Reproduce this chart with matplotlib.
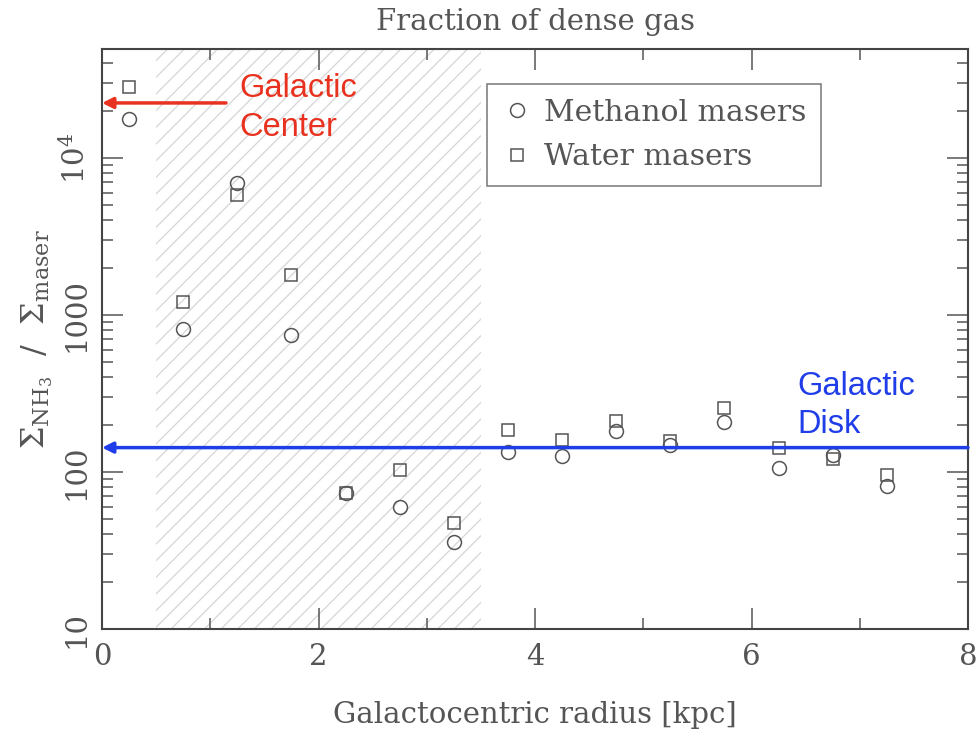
import numpy as np
import matplotlib
matplotlib.use("Agg")
import matplotlib.pyplot as plt
from matplotlib.ticker import FixedLocator, LogLocator, NullFormatter

# galactocentric radius bins [kpc]
radius = [0.25, 0.75, 1.25, 1.75, 2.25, 2.75, 3.25, 3.75,
          4.25, 4.75, 5.25, 5.75, 6.25, 6.75, 7.25]
# Sigma_NH3 / Sigma_maser
methanol = [17700, 815, 6930, 747, 73.5, 59.8, 35.8, 134,
            126, 182, 149, 208, 106, 128, 81.5]
water = [28300, 1210, 5800, 1800, 73.5, 103, 47.3, 185,
         160, 211, 157, 256, 142, 121, 95.7]

disk_level = 143
center_level = 22400
hatch_range = (0.5, 3.5)

grey = '#555555'
serif = 'DejaVu Serif'
plt.rcParams['mathtext.fontset'] = 'dejavuserif'
plt.rcParams['hatch.linewidth'] = 0.9

fig = plt.figure(figsize=(9.78, 7.37), dpi=100)
ax = fig.add_axes([0.1043, 0.1465, 0.8855, 0.787])

ax.axvspan(hatch_range[0], hatch_range[1], facecolor='none', edgecolor='#d6d6d6',
           hatch='//', linewidth=0, zorder=0)

ax.plot(radius, methanol, 'o', mfc='none', mec=grey, ms=10, mew=1.1,
        label='Methanol masers')
ax.plot(radius, water, 's', mfc='none', mec=grey, ms=8.5, mew=1.1,
        label='Water masers')

ax.annotate('', xy=(0, disk_level), xytext=(8, disk_level),
            arrowprops=dict(arrowstyle='-|>', color='#1f3de8', lw=2.5,
                            mutation_scale=16, shrinkA=0, shrinkB=0))
ax.annotate('', xy=(0, center_level), xytext=(1.145, center_level),
            arrowprops=dict(arrowstyle='-|>', color='#e8321f', lw=2.5,
                            mutation_scale=16, shrinkA=0, shrinkB=0))
ax.text(1.27, 20800, 'Galactic\nCenter', color='#e8321f', fontsize=23.5,
        family='Liberation Sans', va='center', ha='left', linespacing=1.3)
ax.text(6.42, 265, 'Galactic\nDisk', color='#1f3de8', fontsize=23.5,
        family='Liberation Sans', va='center', ha='left', linespacing=1.3)

ax.set_xlim(0, 8)
ax.set_yscale('log')
ax.set_ylim(10, 49400)

ax.xaxis.set_major_locator(FixedLocator([0, 2, 4, 6, 8]))
ax.xaxis.set_minor_locator(FixedLocator([1, 3, 5, 7]))
ax.yaxis.set_major_locator(FixedLocator([10, 100, 1000, 10000]))
ax.yaxis.set_minor_locator(LogLocator(base=10, subs=np.arange(2, 10)))
ax.yaxis.set_minor_formatter(NullFormatter())
ax.set_yticklabels(['10', '100', '1000', '$10^4$'])

ax.tick_params(which='both', direction='in', top=True, right=True, colors=grey,
               labelsize=21, labelcolor=grey, width=1.1)
ax.tick_params(which='major', length=15)
ax.tick_params(which='minor', length=8)
ax.tick_params(axis='x', pad=10)
ax.tick_params(axis='y', pad=8)
for lab in ax.get_xticklabels() + ax.get_yticklabels():
    lab.set_family(serif)
for lab in ax.get_yticklabels():
    lab.set_rotation(90)
    lab.set_va('center')

for sp in ax.spines.values():
    sp.set_color('#444444')
    sp.set_linewidth(1.5)

ax.set_title('Fraction of dense gas', family=serif, fontsize=21, color=grey, pad=14)
ax.set_xlabel('Galactocentric radius [kpc]', family=serif, fontsize=21, color=grey,
              labelpad=22)
ax.set_ylabel(r'$\Sigma_{\rm NH_3}\ \ /\ \ \Sigma_{\rm maser}$', fontsize=23,
              color=grey, labelpad=4)

leg = ax.legend(loc='upper left', bbox_to_anchor=(0.4446, 0.94), frameon=True,
                fancybox=False, edgecolor=grey, prop={'family': serif, 'size': 21.5},
                handletextpad=0.4, borderpad=0.5, labelspacing=0.55, handlelength=1.0,
                labelcolor=grey, borderaxespad=0)
leg.get_frame().set_linewidth(1.1)

fig.savefig('out.png', dpi=100)
